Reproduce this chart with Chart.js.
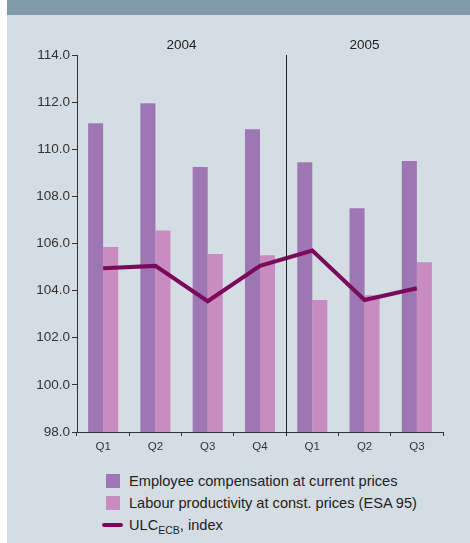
<!DOCTYPE html>
<html>
<head>
<meta charset="utf-8">
<script src="https://cdn.jsdelivr.net/npm/chart.js@4.4.1/dist/chart.umd.min.js"></script>
<style>
  html, body { margin: 0; padding: 0; background: #fff; }
  body { width: 470px; height: 543px; position: relative; overflow: hidden;
         font-family: "Liberation Sans", Arial, sans-serif; }
  #panel { position: absolute; left: 7px; top: 0; width: 463px; height: 543px; background: #d5dde4; }
  #band { position: absolute; left: 0; top: 0; width: 463px; height: 15px; background: #7f9aa8; }
  #chart { position: absolute; left: 0; top: 15px; }
  #legend { position: absolute; left: 95px; top: 470px; color: #222; font-size: 14.6px; }
  .row { position: relative; height: 22px; line-height: 22px; padding-left: 27px; white-space: nowrap; }
  .box { position: absolute; left: 4px; top: 4px; width: 14px; height: 14px; }
  .ln { position: absolute; left: 0; top: 9px; width: 21px; height: 4px; border-radius: 2px; }
  .row sub { font-size: 10.5px; vertical-align: -4px; line-height: 0; }
</style>
</head>
<body>
<div id="panel">
  <div id="band"></div>
  <canvas id="chart" width="463" height="440"></canvas>
  <div id="legend"></div>
</div>
<script>
// quarters and the year each group of quarters belongs to
var quarters = ['Q1', 'Q2', 'Q3', 'Q4', 'Q1', 'Q2', 'Q3'];
var years = ['2004', '2005'];
var quartersPerYear = [4, 3];

// index values
var compensation = [111.1, 111.95, 109.25, 110.85, 109.45, 107.5, 109.5];
var productivity = [105.85, 106.55, 105.55, 105.5, 103.6, 103.8, 105.2];
var ulcIndex = [104.95, 105.05, 103.55, 105.05, 105.7, 103.6, 104.1];

var yTicks = { min: 98, max: 114, step: 2 };

var seriesNames = [
  'Employee compensation at current prices',
  'Labour productivity at const. prices (ESA 95)',
  'ULC, index'
];

var purple = '#9e76b3';
var pink = '#c98cc0';
var maroon = '#7c0a5b';
var axisColor = '#333';
var fontFamily = '"Liberation Sans", Arial, sans-serif';

// year captions over the quarter groups and the divider between them
var yearPlugin = {
  id: 'years',
  afterDraw: function (chart) {
    var ctx = chart.ctx;
    var x = chart.scales.x;
    var area = chart.chartArea;
    var half = (x.getPixelForValue(1) - x.getPixelForValue(0)) / 2;
    var start = 0;
    ctx.save();
    ctx.font = '13.5px ' + fontFamily;
    ctx.fillStyle = '#222';
    ctx.textAlign = 'center';
    ctx.textBaseline = 'middle';
    years.forEach(function (yr, i) {
      var end = start + quartersPerYear[i] - 1;
      var left = x.getPixelForValue(start) - half;
      var right = x.getPixelForValue(end) + half;
      ctx.fillText(yr, (left + right) / 2, area.top - 10);
      if (i > 0) {
        ctx.strokeStyle = '#222';
        ctx.lineWidth = 1;
        ctx.beginPath();
        ctx.moveTo(Math.round(left) + 0.5, area.top);
        ctx.lineTo(Math.round(left) + 0.5, area.bottom + 4);
        ctx.stroke();
      }
      start = end + 1;
    });
    ctx.restore();
  }
};

new Chart(document.getElementById('chart'), {
  type: 'bar',
  data: {
    labels: quarters,
    datasets: [{
      type: 'line',
      label: seriesNames[2],
      data: ulcIndex,
      borderColor: maroon,
      borderWidth: 4,
      pointRadius: 0,
      tension: 0,
      order: 0
    }, {
      label: seriesNames[0],
      data: compensation,
      backgroundColor: purple,
      order: 1
    }, {
      label: seriesNames[1],
      data: productivity,
      backgroundColor: pink,
      order: 1
    }]
  },
  options: {
    responsive: false,
    animation: false,
    layout: { padding: { top: 40, right: 27, left: 0, bottom: 0 } },
    datasets: { bar: { categoryPercentage: 0.575, barPercentage: 1 } },
    plugins: { legend: { display: false }, tooltip: { enabled: false } },
    scales: {
      x: {
        afterFit: function (s) { s.height = 23; },
        grid: { offset: true, drawOnChartArea: false, tickLength: 4, color: axisColor },
        border: { color: axisColor },
        ticks: { color: '#333', padding: 4, font: { size: 11.5, family: fontFamily } }
      },
      y: {
        min: yTicks.min,
        max: yTicks.max,
        afterFit: function (s) { s.width = 70; },
        grid: { drawOnChartArea: false, tickLength: 5, color: axisColor },
        border: { color: axisColor },
        ticks: {
          stepSize: yTicks.step,
          color: '#333',
          padding: 2,
          font: { size: 13.5, family: fontFamily },
          callback: function (v) { return v.toFixed(1); }
        }
      }
    }
  },
  plugins: [yearPlugin]
});

// legend below the chart; ULC gets its ECB subscript
var legend = document.getElementById('legend');
[[seriesNames[0], purple, 'box'], [seriesNames[1], pink, 'box'], [seriesNames[2], maroon, 'ln']].forEach(function (item) {
  var row = document.createElement('div');
  row.className = 'row';
  var key = document.createElement('span');
  key.className = item[2];
  key.style.background = item[1];
  row.appendChild(key);
  var text = item[0];
  if (text.indexOf('ULC') === 0) {
    row.appendChild(document.createTextNode('ULC'));
    var sub = document.createElement('sub');
    sub.textContent = 'ECB';
    row.appendChild(sub);
    row.appendChild(document.createTextNode(text.slice(3)));
  } else {
    row.appendChild(document.createTextNode(text));
  }
  legend.appendChild(row);
});
</script>
</body>
</html>
